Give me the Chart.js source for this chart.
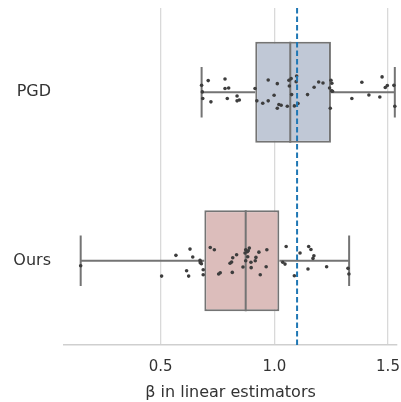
<!DOCTYPE html>
<html>
<head>
<meta charset="utf-8">
<script src="https://cdn.jsdelivr.net/npm/chart.js@4.4.1/dist/chart.umd.min.js"></script>
<style>
  html, body { margin: 0; padding: 0; background: #fff; }
  #wrap { width: 401px; height: 402px; }
</style>
</head>
<body>
<div id="wrap"><canvas id="chart"></canvas></div>
<script>
// box statistics, one entry per method
const categories = ["PGD", "Ours"];
const q1 = [0.916, 0.692];
const medians = [1.070, 0.874];
const q3 = [1.249, 1.022];
const whiskerLow = [0.680, 0.148];
const whiskerHigh = [1.530, 1.329];
const referenceBeta = 1.1;
const xTicks = [0.5, 1.0, 1.5];

// strip points (value, vertical jitter)
const pgdValues = [0.680, 0.683, 0.685, 0.709, 0.721, 0.783, 0.783, 0.799, 0.793, 0.836,
  0.836, 0.846, 0.915, 0.923, 0.949, 0.973, 0.973, 0.999, 1.013, 1.013,
  1.020, 1.030, 1.057, 1.064, 1.066, 1.074, 1.076, 1.088, 1.098, 1.096,
  1.104, 1.146, 1.175, 1.195, 1.214, 1.249, 1.253, 1.243, 1.252, 1.256,
  1.246, 1.341, 1.385, 1.416, 1.464, 1.474, 1.488, 1.497, 1.526, 1.530];
const pgdJitter = [-0.041, -0.002, 0.037, -0.069, 0.057, -0.079, -0.022, -0.025, 0.037, 0.022,
  0.051, 0.046, -0.022, 0.051, 0.065, -0.073, 0.051, 0.018, -0.051, 0.095,
  0.073, 0.077, 0.083, -0.071, -0.037, -0.081, 0.014, 0.081, -0.096, -0.063,
  0.067, 0.014, -0.030, -0.061, -0.055, -0.071, -0.053, -0.025, -0.008, -0.006,
  0.095, 0.037, -0.059, 0.016, 0.028, -0.091, -0.028, -0.040, -0.041, 0.083];
const oursValues = [0.148, 0.504, 0.567, 0.614, 0.623, 0.629, 0.641, 0.673, 0.676, 0.679,
  0.674, 0.687, 0.687, 0.718, 0.736, 0.755, 0.762, 0.805, 0.812, 0.817,
  0.815, 0.834, 0.862, 0.871, 0.874, 0.874, 0.881, 0.883, 0.890, 0.885,
  0.897, 0.898, 0.916, 0.919, 0.932, 0.938, 0.964, 0.967, 1.037, 1.047,
  1.052, 1.088, 1.113, 1.148, 1.151, 1.161, 1.170, 1.174, 1.230, 1.324, 1.328];
const oursJitter = [0.030, 0.091, -0.032, 0.059, 0.091, -0.069, -0.022, -0.002, 0.006, 0.018,
  0.012, 0.053, 0.083, -0.079, -0.065, 0.079, 0.071, 0.015, 0.008, -0.018,
  0.069, -0.036, 0.037, -0.046, -0.065, 0.000, -0.053, -0.024, -0.075, -0.059,
  0.009, 0.041, 0.000, -0.020, -0.051, 0.083, 0.036, -0.065, 0.009, 0.020,
  -0.085, 0.089, -0.046, 0.049, -0.085, -0.067, -0.014, -0.030, 0.036, 0.045, 0.079];

const boxColors = ["#c0c8d6", "#dcbdbb"];
const edgeColor = "#747474";
const BOX_HALF = 0.3;
const CAP_HALF = 0.15;

const points = [];
pgdValues.forEach((v, i) => points.push({ x: v, y: 0 + pgdJitter[i] }));
oursValues.forEach((v, i) => points.push({ x: v, y: 1 + oursJitter[i] }));

const font = "'DejaVu Sans', sans-serif";

function noScalePadding(s) {
  s.paddingTop = 0;
  s.paddingBottom = 0;
  s.paddingLeft = 0;
  s.paddingRight = 0;
}

// whiskers, caps and medians on top of the bars; reference line over everything
const boxPlugin = {
  id: "boxParts",
  afterDatasetDraw(chart, args) {
    if (args.index !== 0) return;
    const { ctx, scales: { x, y } } = chart;
    ctx.save();
    ctx.strokeStyle = edgeColor;
    ctx.lineWidth = 2;
    categories.forEach((c, i) => {
      const yc = y.getPixelForValue(i);
      const capTop = y.getPixelForValue(i - CAP_HALF);
      const capBot = y.getPixelForValue(i + CAP_HALF);
      ctx.beginPath();
      ctx.moveTo(x.getPixelForValue(whiskerLow[i]), yc);
      ctx.lineTo(x.getPixelForValue(q1[i]), yc);
      ctx.moveTo(x.getPixelForValue(q3[i]), yc);
      ctx.lineTo(x.getPixelForValue(whiskerHigh[i]), yc);
      ctx.moveTo(x.getPixelForValue(whiskerLow[i]), capTop);
      ctx.lineTo(x.getPixelForValue(whiskerLow[i]), capBot);
      ctx.moveTo(x.getPixelForValue(whiskerHigh[i]), capTop);
      ctx.lineTo(x.getPixelForValue(whiskerHigh[i]), capBot);
      ctx.moveTo(x.getPixelForValue(medians[i]), y.getPixelForValue(i - BOX_HALF));
      ctx.lineTo(x.getPixelForValue(medians[i]), y.getPixelForValue(i + BOX_HALF));
      ctx.stroke();
    });
    ctx.restore();
  },
  afterDatasetsDraw(chart) {
    const { ctx, chartArea, scales: { x } } = chart;
    const px = x.getPixelForValue(referenceBeta);
    ctx.save();
    ctx.strokeStyle = "#1f77b4";
    ctx.lineWidth = 2;
    ctx.setLineDash([5.5, 3]);
    ctx.beginPath();
    ctx.moveTo(px, chartArea.top);
    ctx.lineTo(px, chartArea.bottom);
    ctx.stroke();
    ctx.restore();
  }
};

new Chart(document.getElementById("chart"), {
  data: {
    datasets: [
      {
        type: "bar",
        data: categories.map((c, i) => ({ x: [q1[i], q3[i]], y: i })),
        backgroundColor: boxColors,
        borderColor: edgeColor,
        borderWidth: 2,
        borderSkipped: false,
        categoryPercentage: 1,
        barPercentage: BOX_HALF * 2,
        order: 2
      },
      {
        type: "scatter",
        data: points,
        pointRadius: 1.8,
        pointBackgroundColor: "#3d3d3d",
        pointBorderWidth: 0,
        order: 1
      }
    ]
  },
  options: {
    indexAxis: "y",
    responsive: true,
    maintainAspectRatio: false,
    animation: false,
    layout: { padding: { top: 8, right: 0, bottom: 0, left: 0 } },
    plugins: { legend: { display: false }, tooltip: { enabled: false } },
    scales: {
      x: {
        type: "linear",
        min: 0.0746,
        max: 1.5396,
        offset: false,
        afterBuildTicks: (s) => { s.ticks = xTicks.map((v) => ({ value: v })); },
        afterFit: (s) => { s.height = 57; noScalePadding(s); },
        ticks: {
          padding: 13,
          color: "#333",
          font: { family: font, size: 15 },
          callback: (v) => Number(v).toFixed(1)
        },
        grid: { color: "#d9d9d9", lineWidth: 1.3, drawTicks: false, offset: false },
        border: { color: "#cfcfcf", width: 1.5 },
        title: {
          display: true,
          text: "β in linear estimators",
          color: "#333",
          font: { family: font, size: 16 },
          padding: { top: 0, bottom: 0 }
        }
      },
      y: {
        type: "linear",
        min: -0.5,
        max: 1.5,
        reverse: true,
        offset: false,
        afterBuildTicks: (s) => { s.ticks = categories.map((c, i) => ({ value: i })); },
        afterFit: (s) => { s.width = 64; noScalePadding(s); },
        ticks: {
          padding: 13,
          color: "#333",
          font: { family: font, size: 16 },
          callback: (v) => categories[v]
        },
        grid: { display: false, drawTicks: false, offset: false },
        border: { display: false }
      }
    }
  },
  plugins: [boxPlugin]
});
</script>
</body>
</html>
